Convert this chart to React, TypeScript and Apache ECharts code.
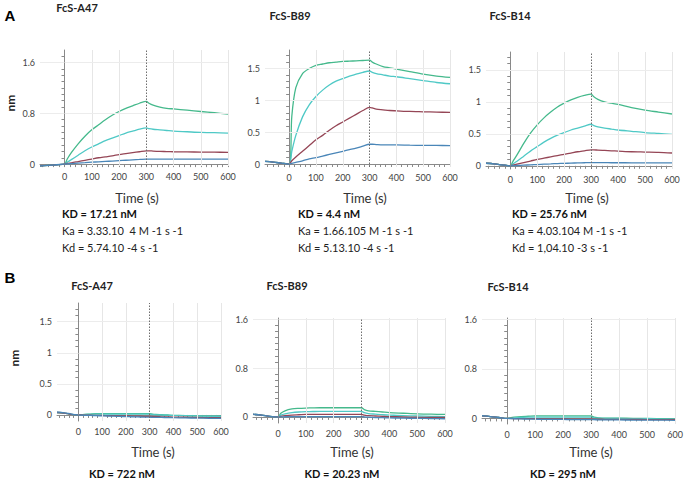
import React, { useEffect, useRef } from "react";
import * as echarts from "echarts";

// Time points (s)
const times = [-90, -60, -30, 0, 10, 25, 50, 75, 100, 125, 150, 175, 200, 225, 250, 275, 300, 310, 325, 350, 375, 400, 450, 500, 550, 600];

const xTickLabels = [0, 100, 200, 300, 400, 500, 600];
const xGridValues = [100, 200, 400, 500, 600];

// Panel A1 FcS-A47
const a1Green = [-0.03, -0.02, -0.01, 0, 0.08, 0.18, 0.32, 0.44, 0.54, 0.62, 0.7, 0.77, 0.83, 0.88, 0.92, 0.96, 0.99, 0.96, 0.93, 0.9, 0.88, 0.87, 0.85, 0.83, 0.81, 0.79];
const a1Cyan = [-0.03, -0.02, -0.01, 0, 0.03, 0.07, 0.14, 0.21, 0.27, 0.32, 0.37, 0.41, 0.45, 0.49, 0.52, 0.55, 0.57, 0.56, 0.55, 0.54, 0.53, 0.52, 0.51, 0.5, 0.495, 0.49];
const a1Red = [-0.03, -0.02, -0.01, 0, 0.01, 0.02, 0.04, 0.06, 0.08, 0.1, 0.115, 0.13, 0.15, 0.165, 0.18, 0.195, 0.21, 0.21, 0.205, 0.2, 0.198, 0.195, 0.192, 0.19, 0.188, 0.185];
const a1Blue = [-0.03, -0.02, -0.01, 0, 0.003, 0.008, 0.015, 0.022, 0.03, 0.036, 0.042, 0.048, 0.055, 0.061, 0.067, 0.073, 0.08, 0.08, 0.08, 0.079, 0.079, 0.078, 0.078, 0.077, 0.077, 0.077];

// Panel A2 FcS-B89
const a2Green = [0.04, 0.03, 0.015, 0, 0.75, 1.2, 1.42, 1.5, 1.55, 1.57, 1.59, 1.6, 1.61, 1.615, 1.62, 1.625, 1.63, 1.6, 1.57, 1.53, 1.51, 1.49, 1.45, 1.41, 1.38, 1.36];
const a2Cyan = [0.04, 0.03, 0.015, 0, 0.2, 0.45, 0.74, 0.93, 1.06, 1.16, 1.24, 1.3, 1.34, 1.38, 1.41, 1.44, 1.46, 1.44, 1.42, 1.4, 1.38, 1.37, 1.34, 1.31, 1.28, 1.26];
const a2Red = [0.04, 0.03, 0.015, 0, 0.05, 0.11, 0.2, 0.29, 0.38, 0.45, 0.53, 0.6, 0.66, 0.72, 0.78, 0.84, 0.89, 0.88, 0.86, 0.85, 0.84, 0.835, 0.825, 0.82, 0.815, 0.81];
const a2Blue = [0.04, 0.03, 0.015, 0, 0.01, 0.025, 0.05, 0.08, 0.1, 0.125, 0.15, 0.175, 0.2, 0.225, 0.25, 0.28, 0.31, 0.31, 0.305, 0.3, 0.3, 0.3, 0.295, 0.293, 0.291, 0.29];

// Panel A3 FcS-B14
const a3Green = [0.04, 0.03, 0.015, 0, 0.07, 0.17, 0.35, 0.51, 0.64, 0.75, 0.84, 0.92, 0.98, 1.03, 1.07, 1.1, 1.12, 1.08, 1.04, 1.0, 0.98, 0.96, 0.91, 0.87, 0.84, 0.81];
const a3Cyan = [0.04, 0.03, 0.015, 0, 0.03, 0.07, 0.15, 0.23, 0.3, 0.37, 0.43, 0.48, 0.52, 0.56, 0.59, 0.62, 0.65, 0.63, 0.61, 0.59, 0.575, 0.56, 0.54, 0.52, 0.505, 0.49];
const a3Red = [0.04, 0.03, 0.015, 0, 0.01, 0.025, 0.05, 0.075, 0.1, 0.12, 0.14, 0.16, 0.18, 0.2, 0.22, 0.235, 0.25, 0.25, 0.245, 0.24, 0.235, 0.23, 0.22, 0.215, 0.21, 0.2];
const a3Blue = [0.04, 0.03, 0.015, 0, 0.002, 0.005, 0.01, 0.015, 0.02, 0.025, 0.03, 0.035, 0.038, 0.042, 0.045, 0.048, 0.05, 0.05, 0.05, 0.049, 0.048, 0.048, 0.047, 0.046, 0.045, 0.045];

// Panel B1 FcS-A47
const b1Green = [0.04, 0.03, 0.01, 0, 0.005, 0.01, 0.015, 0.02, 0.02, 0.02, 0.02, 0.02, 0.02, 0.02, 0.02, 0.02, 0.02, 0.015, 0.01, 0.005, 0, -0.005, -0.01, -0.015, -0.02, -0.02];
const b1Cyan = [0.04, 0.03, 0.01, 0, 0.003, 0.006, 0.01, 0.012, 0.012, 0.012, 0.012, 0.012, 0.012, 0.012, 0.012, 0.012, 0.012, 0.008, 0.004, 0, -0.004, -0.008, -0.012, -0.016, -0.02, -0.022];
const b1Red = [0.04, 0.03, 0.01, 0, 0, -0.002, -0.004, -0.006, -0.008, -0.01, -0.012, -0.014, -0.016, -0.018, -0.02, -0.022, -0.024, -0.026, -0.028, -0.03, -0.032, -0.034, -0.037, -0.04, -0.043, -0.045];
const b1Blue = [0.045, 0.035, 0.015, 0, -0.002, -0.005, -0.008, -0.011, -0.014, -0.017, -0.02, -0.023, -0.026, -0.029, -0.032, -0.034, -0.036, -0.037, -0.038, -0.04, -0.042, -0.044, -0.047, -0.05, -0.053, -0.055];

// Panel B2 FcS-B89
const b2Green = [0.04, 0.03, 0.01, 0, 0.06, 0.1, 0.13, 0.14, 0.145, 0.148, 0.15, 0.15, 0.15, 0.15, 0.15, 0.15, 0.15, 0.12, 0.1, 0.09, 0.08, 0.07, 0.06, 0.05, 0.045, 0.04];
const b2Cyan = [0.04, 0.03, 0.01, 0, 0.03, 0.05, 0.07, 0.08, 0.085, 0.088, 0.09, 0.09, 0.09, 0.09, 0.09, 0.09, 0.09, 0.07, 0.055, 0.045, 0.035, 0.03, 0.02, 0.015, 0.01, 0.005];
const b2Red = [0.04, 0.03, 0.01, 0, 0.01, 0.02, 0.03, 0.035, 0.04, 0.04, 0.04, 0.04, 0.04, 0.04, 0.04, 0.04, 0.04, 0.03, 0.02, 0.015, 0.01, 0.005, 0, -0.005, -0.008, -0.01];
const b2Blue = [0.045, 0.03, 0.01, 0, 0, 0.002, 0.004, 0.005, 0.006, 0.006, 0.006, 0.006, 0.006, 0.006, 0.006, 0.006, 0.006, 0, -0.005, -0.01, -0.013, -0.016, -0.02, -0.024, -0.027, -0.03];

// Panel B3 FcS-B14
const b3Green = [0.04, 0.03, 0.015, 0, 0.01, 0.02, 0.03, 0.035, 0.04, 0.04, 0.04, 0.04, 0.04, 0.04, 0.04, 0.04, 0.04, 0.02, 0.01, 0.005, 0.005, 0.005, 0, 0, -0.005, -0.01];
const b3Cyan = [0.04, 0.03, 0.015, 0, 0.005, 0.01, 0.015, 0.02, 0.02, 0.02, 0.02, 0.02, 0.02, 0.02, 0.02, 0.02, 0.02, 0.01, 0.005, 0, 0, 0, -0.005, -0.005, -0.01, -0.01];
const b3Red = [0.04, 0.03, 0.015, 0, 0, -0.002, -0.003, -0.004, -0.005, -0.006, -0.007, -0.008, -0.009, -0.01, -0.01, -0.01, -0.01, -0.012, -0.013, -0.014, -0.015, -0.016, -0.017, -0.018, -0.019, -0.02];
const b3Blue = [0.045, 0.03, 0.015, 0, -0.003, -0.005, -0.008, -0.01, -0.012, -0.014, -0.015, -0.016, -0.017, -0.018, -0.019, -0.02, -0.02, -0.021, -0.022, -0.023, -0.024, -0.025, -0.026, -0.027, -0.028, -0.03];

const titles = ["FcS-A47", "FcS-B89", "FcS-B14", "FcS-A47", "FcS-B89", "FcS-B14"];
const yLabelsA1 = [0, 0.8, 1.6];
const yLabelsHalf = [0, 0.5, 1, 1.5];
const yLabelsB = [0, 0.8, 1.6];

const kdA = ["KD = 17.21 nM", "KD = 4.4 nM", "KD = 25.76 nM"];
const kaA = ["Ka = 3.33.10  4 M -1 s -1", "Ka = 1.66.105 M -1 s -1", "Ka = 4.03.104 M -1 s -1"];
const kdRateA = ["Kd = 5.74.10 -4 s -1", "Kd = 5.13.10 -4 s -1", "Kd = 1,04.10 -3 s -1"];
const kdB = ["KD = 722 nM", "KD = 20.23 nM", "KD = 295 nM"];

const panelData = [
  [a1Green, a1Cyan, a1Red, a1Blue],
  [a2Green, a2Cyan, a2Red, a2Blue],
  [a3Green, a3Cyan, a3Red, a3Blue],
  [b1Green, b1Cyan, b1Red, b1Blue],
  [b2Green, b2Cyan, b2Red, b2Blue],
  [b3Green, b3Cyan, b3Red, b3Blue],
];
const yLabelSets = [yLabelsA1, yLabelsHalf, yLabelsHalf, yLabelsHalf, yLabelsB, yLabelsB];

const colors = ["#45b98c", "#4fc9c6", "#954656", "#4a86b8"];

// layout
const layouts = [
  { left: 40, top: 50, width: 188, height: 116, ymin: -0.03, ymax: 1.8 },
  { left: 265, top: 50, width: 185, height: 117, ymin: -0.047, ymax: 1.79 },
  { left: 486, top: 52, width: 186, height: 117, ymin: -0.05, ymax: 1.78 },
  { left: 57, top: 303, width: 164, height: 118, ymin: -0.097, ymax: 1.8 },
  { left: 253, top: 318, width: 192, height: 105, ymin: -0.1, ymax: 1.62 },
  { left: 482, top: 318, width: 196, height: 106, ymin: -0.09, ymax: 1.62 },
];

const FONT = "Lato";

export default function App() {
  const ref = useRef<HTMLDivElement>(null);
  useEffect(() => {
    if (!ref.current) return;
    const chart = echarts.init(ref.current, null, { renderer: "svg" });

    const xMinorTicks: number[] = [];
    for (let v = -80; v <= 600; v += 20) xMinorTicks.push(v);

    const grids: any[] = [];
    const xAxes: any[] = [];
    const yAxes: any[] = [];
    const series: any[] = [];

    layouts.forEach((L, i) => {
      grids.push({ left: L.left, top: L.top, width: L.width, height: L.height });
      xAxes.push({
        type: "value",
        gridIndex: i,
        min: -90,
        max: 600,
        axisLine: { show: true, lineStyle: { color: "#8a8a8a", width: 1 } },
        axisTick: { show: true, customValues: xMinorTicks, length: 3, lineStyle: { color: "#8a8a8a" } },
        axisLabel: { customValues: xTickLabels, fontSize: 9, color: "#444", margin: 6, fontFamily: FONT },
        splitLine: { show: false },
      });
      const yl = yLabelSets[i];
      const yTicks: number[] = [];
      for (let k = 0; k <= 17; k++) yTicks.push(Math.round(k * 0.1 * 10) / 10);
      yAxes.push({
        type: "value",
        gridIndex: i,
        min: L.ymin,
        max: L.ymax,
        axisLine: { show: true, lineStyle: { color: "#8a8a8a", width: 1 } },
        axisTick: { show: true, customValues: yTicks, length: 3, lineStyle: { color: "#8a8a8a" } },
        axisLabel: { customValues: yl, fontSize: 9, color: "#444", margin: 5, fontFamily: FONT },
        splitLine: { show: false },
      });
      const mlData: any[] = [];
      xGridValues.forEach((v) => mlData.push({ xAxis: v, lineStyle: { color: "#e6e6e6", type: "solid", width: 1 } }));
      yl.filter((v) => v !== 0).forEach((v) => mlData.push({ yAxis: v, lineStyle: { color: "#ececec", type: "solid", width: 1 } }));
      mlData.push({ xAxis: 0, lineStyle: { color: "#888888", type: [1.5, 1.5], width: 1 } });
      mlData.push({ xAxis: 300, lineStyle: { color: "#6e6e6e", type: [1.5, 1.5], width: 1 } });
      series.push({
        type: "line",
        xAxisIndex: i,
        yAxisIndex: i,
        data: [],
        silent: true,
        markLine: { silent: true, symbol: "none", label: { show: false }, data: mlData, animation: false },
      });
      panelData[i].forEach((arr, s) => {
        series.push({
          type: "line",
          xAxisIndex: i,
          yAxisIndex: i,
          data: times.map((t, k) => [t, arr[k]]),
          showSymbol: false,
          smooth: 0.3,
          lineStyle: { color: colors[s], width: 1.3 },
          itemStyle: { color: colors[s] },
        });
      });
    });

    const titlePos = [
      [77, 7], [290, 15], [510, 15], [92, 285], [287, 285], [508, 286],
    ];
    const timePos = [
      [137, 198], [365, 198], [587, 198], [153, 452], [352, 452], [591, 452],
    ];
    const graphics: any[] = [];
    graphics.push({ type: "text", x: 10, y: 15, style: { text: "A", font: "bold 15px Arial", fill: "#000", textAlign: "center", textVerticalAlign: "middle" } });
    graphics.push({ type: "text", x: 10, y: 277, style: { text: "B", font: "bold 15px Arial", fill: "#000", textAlign: "center", textVerticalAlign: "middle" } });
    titles.forEach((t, i) => {
      graphics.push({ type: "text", x: titlePos[i][0], y: titlePos[i][1], style: { text: t, font: `bold 11px ${FONT}`, fill: "#222", textAlign: "center", textVerticalAlign: "middle" } });
      graphics.push({ type: "text", x: timePos[i][0], y: timePos[i][1], style: { text: "Time (s)", font: `13px ${FONT}`, fill: "#333", textAlign: "center", textVerticalAlign: "middle" } });
    });
    graphics.push({ type: "text", x: 10, y: 103, rotation: Math.PI / 2, style: { text: "nm", font: `bold 12px ${FONT}`, fill: "#222", textAlign: "center", textVerticalAlign: "middle" } });
    graphics.push({ type: "text", x: 14, y: 358, rotation: Math.PI / 2, style: { text: "nm", font: `bold 12px ${FONT}`, fill: "#222", textAlign: "center", textVerticalAlign: "middle" } });
    const kdX = [62, 298, 512];
    kdA.forEach((t, i) => {
      graphics.push({ type: "text", x: kdX[i], y: 213, style: { text: t, font: `bold 11px ${FONT}`, fill: "#111", textAlign: "left", textVerticalAlign: "middle" } });
      graphics.push({ type: "text", x: kdX[i], y: 230, style: { text: kaA[i], font: `11px ${FONT}`, fill: "#222", textAlign: "left", textVerticalAlign: "middle" } });
      graphics.push({ type: "text", x: kdX[i], y: 247, style: { text: kdRateA[i], font: `11px ${FONT}`, fill: "#222", textAlign: "left", textVerticalAlign: "middle" } });
    });
    const kdBX = [122, 342, 563];
    kdB.forEach((t, i) => {
      graphics.push({ type: "text", x: kdBX[i], y: 473, style: { text: t, font: `bold 11px ${FONT}`, fill: "#111", textAlign: "center", textVerticalAlign: "middle" } });
    });

    chart.setOption({
      animation: false,
      backgroundColor: "#ffffff",
      grid: grids,
      xAxis: xAxes,
      yAxis: yAxes,
      series,
      graphic: graphics,
    });
    return () => chart.dispose();
  }, []);
  return <div ref={ref} style={{ width: 686, height: 485, position: "absolute", left: 0, top: 0 }} />;
}
